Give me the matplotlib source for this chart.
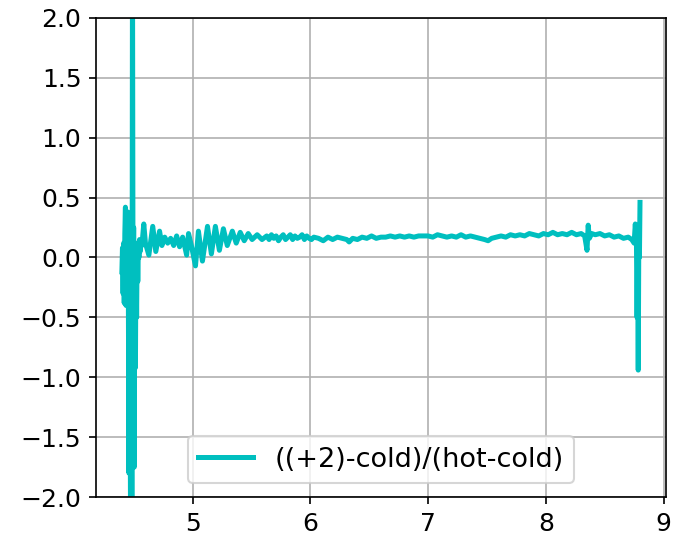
import matplotlib
matplotlib.use("Agg")
import matplotlib.pyplot as plt

# 波长（左侧噪声区）
x_left = [4.400, 4.405, 4.410, 4.415, 4.420, 4.425, 4.430, 4.435, 4.440, 4.445,
          4.450, 4.455, 4.460, 4.465, 4.470, 4.475, 4.480, 4.485, 4.490, 4.495,
          4.500, 4.505, 4.510, 4.515, 4.520, 4.525, 4.530, 4.535, 4.540, 4.545,
          4.550, 4.555, 4.560, 4.570]
y_left = [-0.12, 0.08, -0.30, 0.12, -0.38, 0.20, 0.42, -0.40, 0.30, -0.15,
          0.38, -0.30, -1.80, 0.15, -1.20, -2.60, 0.10, -2.60, 2.60, -0.60,
          0.25, -1.75, 0.05, -0.92, 0.10, -0.50, 0.12, -0.20, 0.08, 0.00,
          0.15, 0.05, 0.12, 0.10]

# 振荡区
x_osc = [4.586, 4.600, 4.629, 4.662, 4.688, 4.720, 4.740, 4.764, 4.789, 4.814,
         4.840, 4.865, 4.890, 4.916, 4.950, 4.966, 4.990, 5.025, 5.050, 5.084,
         5.127, 5.160, 5.194, 5.228, 5.262, 5.295, 5.338, 5.371, 5.405, 5.439,
         5.473, 5.506, 5.549, 5.590]
y_osc = [0.28, 0.12, 0.02, 0.26, 0.05, 0.22, 0.10, 0.17, 0.12, 0.16,
         0.10, 0.18, 0.09, 0.17, 0.02, 0.20, 0.10, -0.07, 0.22, -0.03,
         0.26, 0.03, 0.26, 0.06, 0.24, 0.10, 0.22, 0.12, 0.21, 0.14,
         0.20, 0.15, 0.19, 0.15]

# 平稳区
x_flat = [5.63, 5.65, 5.67, 5.69, 5.71, 5.73, 5.75, 5.77, 5.79, 5.81,
          5.83, 5.85, 5.87, 5.89, 5.91, 5.93, 5.95, 5.97, 5.99, 6.01,
          6.03, 6.07, 6.11, 6.15, 6.19, 6.23, 6.27, 6.31, 6.33, 6.36,
          6.40, 6.44, 6.48, 6.52, 6.56, 6.60, 6.64, 6.68, 6.72, 6.76,
          6.80, 6.84, 6.88, 6.92, 6.96, 7.00, 7.04, 7.08, 7.12, 7.16,
          7.20, 7.24, 7.28, 7.32, 7.36, 7.40, 7.44, 7.48, 7.51, 7.54,
          7.58, 7.62, 7.66, 7.70, 7.74, 7.78, 7.82, 7.86, 7.90, 7.94,
          7.98, 8.02, 8.06, 8.10, 8.14, 8.18, 8.22, 8.26, 8.30, 8.33,
          8.35, 8.36, 8.37, 8.39, 8.42, 8.46, 8.50, 8.54, 8.58, 8.62,
          8.66, 8.70, 8.73]
y_flat = [0.18, 0.15, 0.19, 0.16, 0.18, 0.14, 0.17, 0.19, 0.15, 0.17,
          0.19, 0.15, 0.18, 0.16, 0.17, 0.19, 0.15, 0.18, 0.16, 0.15,
          0.17, 0.16, 0.14, 0.17, 0.15, 0.17, 0.16, 0.15, 0.13, 0.16,
          0.15, 0.17, 0.16, 0.18, 0.16, 0.17, 0.17, 0.18, 0.17, 0.18,
          0.17, 0.18, 0.17, 0.18, 0.18, 0.18, 0.17, 0.19, 0.18, 0.17,
          0.18, 0.17, 0.19, 0.17, 0.18, 0.17, 0.16, 0.15, 0.14, 0.16,
          0.17, 0.18, 0.17, 0.19, 0.18, 0.19, 0.18, 0.20, 0.19, 0.18,
          0.20, 0.19, 0.21, 0.19, 0.20, 0.19, 0.21, 0.19, 0.20, 0.18,
          0.06, 0.27, 0.16, 0.20, 0.19, 0.20, 0.18, 0.19, 0.17, 0.18,
          0.16, 0.17, 0.15]

# 右侧尖峰
x_right = [8.750, 8.760, 8.770, 8.775, 8.780, 8.785, 8.790, 8.795, 8.800]
y_right = [0.12, 0.28, 0.10, -0.50, 0.05, -0.94, 0.20, 0.00, 0.46]

x = x_left + x_osc + x_flat + x_right
y = y_left + y_osc + y_flat + y_right

plt.rcParams['font.family'] = ['DejaVu Sans']
plt.rcParams['font.size'] = 12

fig = plt.figure(figsize=(674 / 150, 540 / 150), dpi=150)
ax = fig.add_axes([0.1424, 0.0796, 0.8456, 0.8871])
ax.plot(x, y, color='c', linewidth=2.4, label='((+2)-cold)/(hot-cold)')
ax.set_ylim(-2, 2)
ax.set_yticks([-2.0, -1.5, -1.0, -0.5, 0.0, 0.5, 1.0, 1.5, 2.0])
ax.set_xticks([5, 6, 7, 8, 9])
ax.grid(True)
ax.legend(loc='lower center', fontsize=13)

fig.savefig('out.png', dpi=150)
